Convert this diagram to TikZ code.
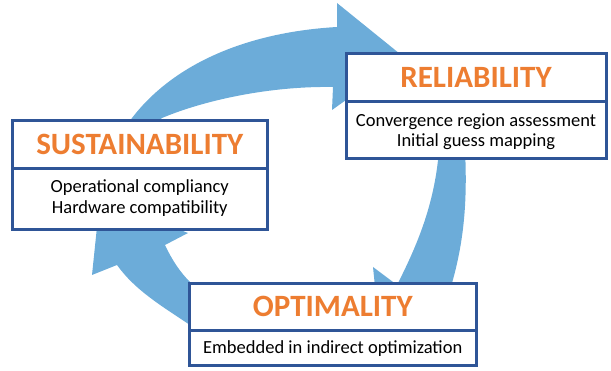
\documentclass[tikz,border=0pt]{standalone}
\usepackage{fontspec}
\setmainfont{Carlito}
\definecolor{cyclefill}{RGB}{108,172,217}
\definecolor{frameblue}{RGB}{47,85,151}
\definecolor{titleorange}{RGB}{237,125,49}
\begin{document}
\begin{tikzpicture}[x=1pt,y=-1pt,
  cyclearrow/.style={fill=cyclefill, draw=none},
  panel/.style={draw=frameblue, line width=3pt, fill=white},
  divider/.style={draw=frameblue, line width=3pt},
  heading/.style={text=titleorange, font=\fontsize{31}{31}\selectfont\bfseries, anchor=base, inner sep=0pt},
  bodyline/.style={text=black, font=\fontsize{18.5}{20}\selectfont, anchor=base, inner sep=0pt}]
\useasboundingbox (0,0) rectangle (611,371);

% curved block arrows of the cycle (drawn first, the panels cover their ends)
\fill[cyclearrow] (124,130) -- (132,118) .. controls (175,62) and (250,32) .. (337,27)
  -- (337,3) -- (405,58) -- (332,110) -- (333,87)
  .. controls (270,86) and (205,100) .. (162,118) -- (150,130) -- cycle;
\fill[cyclearrow] (465,150) .. controls (468,210) and (462,250) .. (450,290)
  -- (465,300) -- (380,335) -- (373,267) -- (397,285)
  .. controls (420,240) and (435,200) .. (439,150) -- cycle;
\fill[cyclearrow] (200,283) -- (190,282) .. controls (180,272) and (172,260) .. (165,245)
  -- (188,233) -- (100,198) -- (92,275) -- (117,265)
  .. controls (135,290) and (160,305) .. (190,325) -- (200,325) -- cycle;

% RELIABILITY panel
\draw[panel] (346.5,53.5) rectangle (606,158.5);
\draw[divider] (346.5,101.5) -- (606,101.5);
\node[heading] (relT) at (476,88) {RELIABILITY};
\node[bodyline] (relA) at (476,127) {Convergence region assessment};
\node[bodyline] (relB) at (476,147) {Initial guess mapping};

% SUSTAINABILITY panel
\draw[panel] (12.5,121) rectangle (267,230);
\draw[divider] (12.5,169) -- (267,169);
\node[heading] (susT) at (139.75,155) {SUSTAINABILITY};
\node[bodyline] (susA) at (139.75,193) {Operational compliancy};
\node[bodyline] (susB) at (139.75,214) {Hardware compatibility};

% OPTIMALITY panel
\draw[panel] (189,284) rectangle (476.5,365.5);
\draw[divider] (189,331) -- (476.5,331);
\node[heading] (optT) at (332.75,317) {OPTIMALITY};
\node[bodyline] (optA) at (332.75,354) {Embedded in indirect optimization};
\end{tikzpicture}
\end{document}
